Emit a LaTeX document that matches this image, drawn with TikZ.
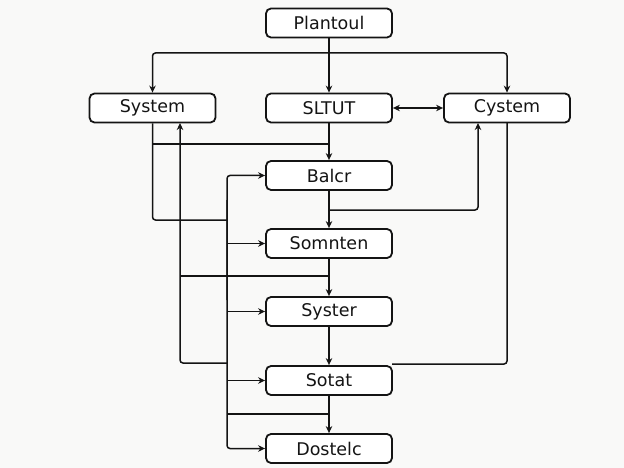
\documentclass[tikz,border=0pt]{standalone}
\usepackage{fontspec}
\setmainfont{DejaVu Sans}
\usetikzlibrary{arrows.meta,calc}
\definecolor{bgc}{RGB}{249,249,248}
\definecolor{ink}{RGB}{20,20,20}
\tikzset{
  box/.style={draw=ink, fill=white, line width=1.8pt, rounded corners=5pt,
    minimum width=126pt, minimum height=29pt, inner sep=0pt, font=\fontsize{17.5}{20}\selectfont, text=ink},
  link/.style={draw=ink, line width=1.5pt, rounded corners=3pt},
  arr/.style={link, -{Stealth[length=7pt,width=6.5pt]}},
  darr/.style={link, {Stealth[length=7pt,width=6.5pt]}-{Stealth[length=7pt,width=6.5pt]}},
}
\begin{document}
\begin{tikzpicture}[x=1pt,y=-1pt]
\useasboundingbox[fill=bgc] (0,0) rectangle (624,468);
\node[box] (P)  at (329,23)    {Plantoul};
\node[box] (Sys) at (152.5,108) {System};
\node[box] (SL) at (329,108)   {SLTUT};
\node[box] (Cy) at (507,108)   {Cystem};
\node[box] (B)  at (329,175.5) {Balcr};
\node[box] (So) at (329,243.5) {Somnten};
\node[box] (Sy) at (329,311.5) {Syster};
\node[box] (St) at (329,380.5) {Sotat};
\node[box] (D)  at (329,448.5) {Dostelc};
% coordinates
\coordinate (j1) at (329,53);
\coordinate (vA) at (227,220);
\coordinate (sysB) at (180,123);
\coordinate (vB) at (227,363);
\coordinate (bB) at (180,276);
\coordinate (mB) at (329,276);
\coordinate (bA) at (152.5,144);
\coordinate (mA) at (329,144);
\coordinate (vTop) at (227,300);
\coordinate (vBot) at (227,200);
\coordinate (vD) at (227,414);
\coordinate (mD) at (329,414);
\coordinate (mC) at (329,210);
\coordinate (cyIn) at (478,123);
\coordinate (cyOut) at (507,123);
\coordinate (stK) at (392,364);
% top fan-out
\draw[arr] (P.south) -- (SL.north);
\draw[arr] (j1) -| (Sys.north);
\draw[arr] (j1) -| (Cy.north);
\draw[darr] (SL.east) -- (Cy.west);
\draw[arr] (SL.south) -- (B.north);
% System left line
\draw[link] (Sys.south) |- (vA);
\draw[link] (bA) -- (mA);
% System return line
\draw[arr] (vB) -| (sysB);
\draw[link] (bB) -- (mB);
% main vertical feeder
\draw[arr] (vTop) |- (B.west);
\draw[arr] (vBot) |- (D.west);
\draw[arr] (So.west -| vA) -- (So.west);
\draw[arr] (Sy.west -| vA) -- (Sy.west);
\draw[arr] (St.west -| vA) -- (St.west);
\draw[link] (vD) -- (mD);
% Cystem loops
\draw[arr] (mC) -| (cyIn);
\draw[link] (cyOut) |- (stK);
% chain
\draw[arr] (B.south) -- (So.north);
\draw[arr] (So.south) -- (Sy.north);
\draw[arr] (Sy.south) -- (St.north);
\draw[arr] (St.south) -- (D.north);
\end{tikzpicture}
\end{document}
